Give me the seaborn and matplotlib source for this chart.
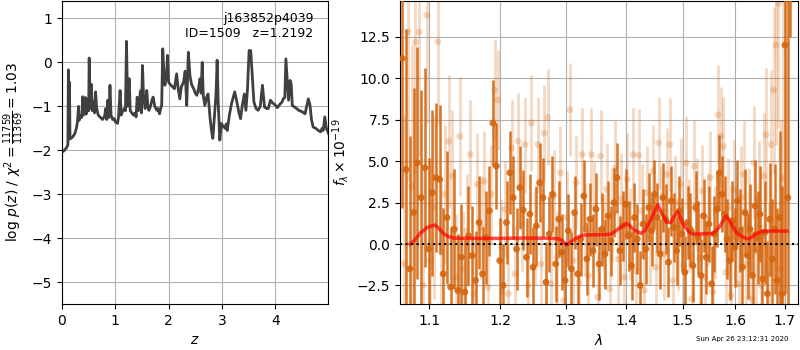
import numpy as np
import pandas as pd
import matplotlib
matplotlib.use("Agg")
import matplotlib.pyplot as plt
from matplotlib.ticker import FixedLocator, FixedFormatter, NullLocator, NullFormatter
import seaborn as sns

# ---------------- data: redshift probability ----------------
z_grid = [0.00, 0.03, 0.06, 0.09, 0.11, 0.12, 0.13, 0.14, 0.15, 0.18, 0.21, 0.24, 0.27, 0.29,
          0.31, 0.32, 0.35, 0.37, 0.39, 0.40, 0.42, 0.44, 0.45, 0.47, 0.49, 0.50, 0.51, 0.53,
          0.55, 0.57, 0.59, 0.61, 0.63, 0.65, 0.68, 0.72, 0.76, 0.80, 0.82, 0.84, 0.86, 0.88,
          0.90, 0.92, 0.95, 0.98, 1.00, 1.04, 1.06, 1.09, 1.11, 1.14, 1.17, 1.19, 1.21, 1.23,
          1.26, 1.28, 1.31, 1.34, 1.37, 1.39, 1.41, 1.43, 1.45, 1.47, 1.49, 1.51, 1.53, 1.56,
          1.59, 1.61, 1.63, 1.66, 1.69, 1.71, 1.74, 1.78, 1.80, 1.83, 1.86, 1.87, 1.89, 1.91,
          1.93, 1.96, 1.98, 2.00, 2.03, 2.07, 2.11, 2.15, 2.18, 2.21, 2.24, 2.28, 2.31, 2.34,
          2.37, 2.40, 2.43, 2.47, 2.50, 2.53, 2.56, 2.59, 2.61, 2.63, 2.65, 2.68, 2.71, 2.74,
          2.78, 2.81, 2.83, 2.85, 2.87, 2.89, 2.91, 2.93, 2.96, 2.99, 3.02, 3.06, 3.08, 3.10,
          3.14, 3.18, 3.21, 3.24, 3.28, 3.32, 3.35, 3.38, 3.42, 3.45, 3.48, 3.51, 3.54, 3.57,
          3.60, 3.64, 3.68, 3.72, 3.76, 3.80, 3.84, 3.87, 3.91, 3.95, 4.00, 4.04, 4.09, 4.13,
          4.15, 4.18, 4.20, 4.23, 4.25, 4.28, 4.30, 4.32, 4.38, 4.44, 4.50, 4.56, 4.59, 4.62,
          4.65, 4.68, 4.71, 4.76, 4.81, 4.85, 4.88, 4.90, 4.93, 4.96, 5.00]
log_pz = [-2.04, -2.02, -1.98, -1.93, -1.88, -0.17, -1.75, -0.45, -1.74, -1.72, -1.68, -1.62, -1.50, -1.35,
          -1.00, -1.32, -1.22, -1.25, -0.78, -1.20, -1.15, -0.80, -1.18, -1.10, -0.85, -1.10, 0.10, -1.05,
          -0.50, -1.10, -0.90, -1.15, -0.67, -1.05, -1.20, -1.25, -1.30, -1.22, -1.05, -1.30, -0.86, -1.25,
          -0.52, -1.20, -1.30, -1.28, -1.35, -1.39, -1.25, -0.64, -1.20, -1.10, -1.05, -1.10, 0.48, -1.00,
          -0.37, -1.10, -1.15, -1.20, -1.15, -1.24, -0.79, -1.10, -1.05, -0.65, -1.15, -0.07, -0.80, -1.05,
          -0.64, -1.00, -1.09, -1.00, -0.85, -0.79, -1.00, -1.09, -1.05, -1.17, -1.00, -0.98, 0.31, -0.20,
          -0.52, -0.30, 0.16, -0.45, -0.50, -0.55, -0.60, -0.26, -0.60, -0.83, -0.55, -0.45, -0.20, -0.98,
          0.23, -0.30, -0.50, -0.60, -0.70, -0.75, -0.60, -0.37, -0.70, 0.00, -0.75, -0.98, -0.80, -0.72,
          -1.30, -1.60, -1.73, -1.40, -1.05, -0.70, 0.05, -0.90, -1.77, -1.39, -1.45, -1.50, -1.40, -1.55,
          -1.20, -0.94, -0.80, -0.67, -0.90, -1.15, -1.28, -1.00, -0.72, -1.09, -0.60, 0.27, 0.27, -0.30,
          -0.90, -1.05, -1.09, -1.00, -0.52, -1.02, -1.05, -1.05, -0.86, -0.92, -0.97, -1.03, -0.95, -0.90,
          -0.83, -0.80, 0.08, -0.50, -0.86, -0.41, -0.50, -0.98, -1.03, -1.09, -1.12, -1.17, -1.00, -0.83,
          -0.95, -1.30, -1.47, -1.50, -1.55, -1.58, -1.50, -1.55, -1.24, -1.50, -1.62]

# ---------------- data: spectrum, dark series ----------------
lam_dark = [1.064, 1.069, 1.074, 1.079, 1.084, 1.089, 1.094, 1.099, 1.104, 1.109,
            1.114, 1.119, 1.124, 1.129, 1.134, 1.139, 1.144, 1.149, 1.154, 1.159,
            1.164, 1.169, 1.174, 1.179, 1.184, 1.189, 1.194, 1.199, 1.204, 1.209,
            1.214, 1.219, 1.224, 1.229, 1.234, 1.239, 1.244, 1.249, 1.254, 1.259,
            1.264, 1.269, 1.274, 1.279, 1.284, 1.289, 1.294, 1.299, 1.304, 1.309,
            1.314, 1.319, 1.324, 1.329, 1.334, 1.339, 1.344, 1.349, 1.354, 1.359,
            1.364, 1.369, 1.374, 1.379, 1.384, 1.389, 1.394, 1.399, 1.404, 1.409,
            1.414, 1.419, 1.424, 1.429, 1.434, 1.439, 1.444, 1.449, 1.454, 1.459,
            1.464, 1.469, 1.474, 1.479, 1.484, 1.489, 1.494, 1.499, 1.504, 1.509,
            1.514, 1.519, 1.524, 1.529, 1.534, 1.539, 1.544, 1.549, 1.554, 1.559,
            1.564, 1.569, 1.574, 1.579, 1.584, 1.589, 1.594, 1.599, 1.604, 1.609,
            1.614, 1.619, 1.624, 1.629, 1.634, 1.639, 1.644, 1.649, 1.654, 1.659,
            1.664, 1.669, 1.674, 1.679, 1.684, 1.689, 1.694, 1.700, 1.706, 1.711]
flux_dark = [11.2, 4.5, -1.5, 1.9, 4.9, 2.8, 4.6, -0.3, 3.1, 4.0,
             3.9, -1.8, 1.6, -2.6, 0.9, -2.8, -0.8, -2.9, 0.5, -0.7,
             -2.2, 1.3, -1.8, 0.4, 2.0, 7.3, 4.7, -1.0, -2.5, 1.3,
             4.3, 2.8, -0.3, 3.4, 2.05, -0.8, 1.8, -1.4, 1.1, 3.7,
             2.8, -2.3, 0.6, 3.0, -1.2, 1.5, -0.5, -2.2, 0.8, -1.5,
             1.9, -1.8, 0.3, 2.9, -0.9, 1.5, -0.4, 2.1, -1.2, 0.9,
             -0.6, 1.7, 0.2, 2.5, 4.0, -0.4, 1.1, 2.4, 0.5, -1.3,
             1.6, 0.3, -2.5, 1.2, -0.3, 2.2, 0.8, 3.0, 1.6, -0.6,
             2.8, 1.5, -1.1, 2.6, 1.0, -0.4, 2.0, 0.6, -1.7, 1.3,
             0.9, -1.3, 2.2, 0.4, -1.9, 1.7, -0.8, 1.2, -2.4, 0.6,
             2.1, 4.3, 3.0, 1.8, 0.3, -1.0, 1.4, -0.2, 2.6, 0.8,
             -1.4, 1.9, -0.7, 0.9, -1.9, 2.3, 0.4, 1.8, -2.1, 0.7,
             -3.0, 1.5, -0.9, 0.9, -2.2, 1.6, -3.0, 12.0, 2.8, 17.0]
err_dark = [9.0, 8.5, 8.0, 7.5, 7.0, 6.5, 6.0, 5.5, 5.0, 4.5,
            4.5, 4.0, 4.0, 3.6, 3.6, 3.4, 3.2, 3.2, 3.0, 3.0,
            3.0, 2.8, 2.8, 2.8, 2.7, 2.6, 2.6, 2.6, 2.5, 2.5,
            2.5, 2.5, 2.5, 2.5, 2.4, 2.4, 2.4, 2.4, 2.4, 2.4,
            2.4, 2.4, 2.3, 2.3, 2.3, 2.3, 2.3, 2.3, 2.2, 2.2,
            2.2, 2.2, 2.2, 2.2, 2.2, 2.2, 2.2, 2.2, 2.2, 2.2,
            2.1, 2.1, 2.1, 2.1, 2.1, 2.1, 2.1, 2.1, 2.1, 2.1,
            2.1, 2.1, 2.1, 2.1, 2.1, 2.1, 2.1, 2.1, 2.1, 2.1,
            2.1, 2.1, 2.1, 2.1, 2.1, 2.1, 2.1, 2.2, 2.2, 2.2,
            2.2, 2.2, 2.2, 2.2, 2.2, 2.2, 2.2, 2.3, 2.3, 2.3,
            2.3, 2.3, 2.3, 2.3, 2.4, 2.4, 2.4, 2.4, 2.5, 2.5,
            2.5, 2.6, 2.6, 2.7, 2.7, 2.8, 2.8, 2.9, 3.0, 3.1,
            3.2, 3.4, 3.6, 3.9, 4.4, 5.2, 6.5, 15.0, 12.0, 4.5]

# ---------------- data: spectrum, light series ----------------
lam_light = [1.0665, 1.0715, 1.0765, 1.0815, 1.0865, 1.0915, 1.0965, 1.1015, 1.1065, 1.1115,
             1.1165, 1.1215, 1.1265, 1.1315, 1.1365, 1.1415, 1.1465, 1.1515, 1.1565, 1.1615,
             1.1665, 1.1715, 1.1765, 1.1815, 1.1865, 1.1915, 1.1965, 1.2015, 1.2065, 1.2115,
             1.2165, 1.2215, 1.2265, 1.2315, 1.2365, 1.2415, 1.2465, 1.2515, 1.2565, 1.2615,
             1.2665, 1.2715, 1.2765, 1.2815, 1.2865, 1.2915, 1.2965, 1.3015, 1.3065, 1.3115,
             1.3165, 1.3215, 1.3265, 1.3315, 1.3365, 1.3415, 1.3465, 1.3515, 1.3565, 1.3615,
             1.3665, 1.3715, 1.3765, 1.3815, 1.3865, 1.3915, 1.3965, 1.4015, 1.4065, 1.4115,
             1.4165, 1.4215, 1.4265, 1.4315, 1.4365, 1.4415, 1.4465, 1.4515, 1.4565, 1.4615,
             1.4665, 1.4715, 1.4765, 1.4815, 1.4865, 1.4915, 1.4965, 1.5015, 1.5065, 1.5115,
             1.5165, 1.5215, 1.5265, 1.5315, 1.5365, 1.5415, 1.5465, 1.5515, 1.5565, 1.5615,
             1.5665, 1.5715, 1.5765, 1.5815, 1.5865, 1.5915, 1.5965, 1.6015, 1.6065, 1.6115,
             1.6165, 1.6215, 1.6265, 1.6315, 1.6365, 1.6415, 1.6465, 1.6515, 1.6565, 1.6615,
             1.6665, 1.6715, 1.6765, 1.6815, 1.6865, 1.6915, 1.6965]
flux_light = [-1.2, 12.8, 3.5, 12.2, 12.8, -2.5, 13.8, -1.0, 2.2, 12.2,
              -0.5, 3.0, 6.2, 4.1, -2.0, 6.5, -1.5, 0.8, 5.4, -3.0,
              3.6, 1.0, 3.8, -2.6, 3.0, 9.3, 8.7, -0.2, 2.1, -3.0,
              5.8, -1.8, 6.2, 1.2, 6.0, -2.5, 7.3, 0.4, 6.0, -1.2,
              6.7, 7.65, -2.4, 2.9, -0.8, 4.3, -3.4, 1.6, 8.1, -1.0,
              3.7, -2.3, 5.4, 0.9, -1.9, 5.4, 2.2, -3.2, 5.3, 0.2,
              3.3, -2.7, 1.8, 4.6, -0.9, 2.7, -2.0, 3.9, 0.6, 5.4,
              -1.6, 5.35, 2.0, -2.8, 3.1, 0.3, 4.4, -1.4, 6.1, 1.9,
              -0.6, 4.2, 6.0, -2.2, 2.5, 0.0, 3.6, -1.3, 4.9, 1.1,
              -3.3, 4.7, 2.4, -0.9, 3.2, -2.0, 1.5, 4.0, -2.9, 0.7,
              7.8, 6.5, 5.9, -1.7, 2.2, -3.1, 3.3, 0.4, -2.4, 2.8,
              4.2, -1.2, 1.3, -3.3, 4.9, -0.4, 2.6, -2.5, 4.1, 6.6,
              -1.8, 6.0, 9.3, 12.0, 14.5, -1.5, 4.0]
err_light = [9.0, 9.0, 8.5, 8.0, 7.5, 7.0, 6.5, 6.0, 5.5, 5.0,
             4.5, 4.2, 4.0, 4.0, 3.8, 3.6, 3.5, 3.4, 3.3, 3.2,
             3.1, 3.1, 3.0, 3.0, 3.0, 3.0, 3.0, 2.9, 2.9, 2.9,
             2.9, 2.9, 2.9, 2.9, 2.9, 2.9, 2.9, 2.9, 2.9, 2.9,
             2.9, 2.9, 2.8, 2.8, 2.8, 2.8, 2.8, 2.8, 2.8, 2.8,
             2.8, 2.8, 2.8, 2.8, 2.8, 2.8, 2.8, 2.8, 2.8, 2.8,
             2.8, 2.8, 2.8, 2.8, 2.8, 2.8, 2.8, 2.8, 2.8, 2.8,
             2.8, 2.8, 2.8, 2.8, 2.8, 2.8, 2.8, 2.8, 2.8, 2.8,
             2.8, 2.8, 2.8, 2.8, 2.8, 2.8, 2.8, 2.8, 2.8, 2.8,
             2.8, 2.8, 2.8, 2.8, 2.8, 2.8, 2.8, 2.8, 2.8, 2.8,
             3.0, 3.0, 3.0, 3.0, 3.0, 3.0, 3.0, 3.0, 3.1, 3.1,
             3.2, 3.2, 3.3, 3.3, 3.4, 3.5, 3.6, 3.7, 3.8, 4.0,
             4.2, 4.5, 5.0, 6.0, 7.5, 9.0, 11.0]

# ---------------- data: best-fit model ----------------
lam_model = [1.0743, 1.081, 1.0875, 1.097, 1.1076, 1.113, 1.119, 1.126, 1.133, 1.145,
             1.160, 1.200, 1.240, 1.280, 1.291, 1.3015, 1.312, 1.320, 1.328, 1.350,
             1.373, 1.384, 1.392, 1.400, 1.406, 1.412, 1.425, 1.432, 1.438, 1.448,
             1.455, 1.462, 1.471, 1.479, 1.484, 1.491, 1.496, 1.500, 1.511, 1.519,
             1.540, 1.557, 1.570, 1.576, 1.582, 1.588, 1.593, 1.603, 1.615, 1.626,
             1.634, 1.642, 1.656, 1.680, 1.704]
flux_model = [0.0, 0.25, 0.64, 1.00, 1.15, 0.95, 0.64, 0.45, 0.36, 0.34,
              0.34, 0.34, 0.36, 0.34, 0.30, -0.06, 0.24, 0.42, 0.54, 0.56,
              0.58, 0.84, 1.05, 1.25, 1.10, 0.89, 0.64, 0.80, 1.15, 1.86,
              2.37, 1.86, 1.31, 1.29, 1.65, 1.96, 1.60, 1.25, 0.74, 0.60,
              0.62, 0.64, 1.05, 1.40, 1.70, 1.45, 1.15, 0.64, 0.42, 0.30,
              0.45, 0.64, 0.78, 0.78, 0.78]

xticks_lam = [1.1, 1.2, 1.3, 1.4, 1.5, 1.6, 1.7]
xtick_labels_lam = ["1.1", "1.2", "1.3", "1.4", "1.5", "1.6", "1.7"]

# ---------------- figure ----------------
plt.rcParams["font.family"] = ["DejaVu Sans"]
fig = plt.figure(figsize=(8, 3.5), dpi=100)
ax1 = fig.add_axes([0.0775, 0.1314, 0.3325, 0.866])
ax2 = fig.add_axes([0.5, 0.1314, 0.4975, 0.866])

# left: p(z)
df_pz = pd.DataFrame({"z": z_grid, "logp": log_pz})
sns.lineplot(data=df_pz, x="z", y="logp", ax=ax1, color="0.25", lw=2.0,
             sort=False, estimator=None)
ax1.set_xlim(0, 4.99)
ax1.set_ylim(-5.5, 1.4)
ax1.set_xticks([0, 1, 2, 3, 4])
ax1.set_yticks([-5, -4, -3, -2, -1, 0, 1])
ax1.grid(True, color="#b0b0b0", lw=0.8)
ax1.set_axisbelow(True)
ax1.set_xlabel(r"$z$", fontsize=10)
ax1.set_ylabel(r"$\log\,p(z)$ / $\chi^2=\frac{11759}{11369}=1.03$", fontsize=10)
ax1.text(0.945, 0.965, "j163852p4039\nID=1509   z=1.2192", transform=ax1.transAxes,
         ha="right", va="top", fontsize=9)

# right: spectrum
orange = "#d4660f"
ax2.errorbar(lam_light, flux_light, yerr=err_light, fmt="none", ecolor=orange,
             elinewidth=2.0, alpha=0.25, zorder=2)
sns.scatterplot(x=lam_light, y=flux_light, ax=ax2, color=orange, alpha=0.25,
                s=24, edgecolor="none", zorder=2.1, legend=False)
ax2.errorbar(lam_dark, flux_dark, yerr=err_dark, fmt="none", ecolor=orange,
             elinewidth=1.8, alpha=0.9, zorder=3)
sns.scatterplot(x=lam_dark, y=flux_dark, ax=ax2, color=orange, alpha=0.9,
                s=24, edgecolor="none", zorder=3.1, legend=False)
df_model = pd.DataFrame({"lam": lam_model, "flux": flux_model})
sns.lineplot(data=df_model, x="lam", y="flux", ax=ax2, color="red", alpha=0.7,
             lw=2.5, sort=False, estimator=None, zorder=4)
ax2.axhline(0, color="k", ls=":", lw=1.5, zorder=5)

ax2.set_xscale("log")
ax2.set_xlim(1.0612, 1.7275)
ax2.set_ylim(-3.62, 14.67)
ax2.xaxis.set_major_locator(FixedLocator(xticks_lam))
ax2.xaxis.set_major_formatter(FixedFormatter(xtick_labels_lam))
ax2.xaxis.set_minor_locator(NullLocator())
ax2.xaxis.set_minor_formatter(NullFormatter())
ax2.set_yticks([-2.5, 0.0, 2.5, 5.0, 7.5, 10.0, 12.5])
ax2.grid(True, color="#b0b0b0", lw=0.8)
ax2.set_axisbelow(True)
ax2.set_xlabel(r"$\lambda$", fontsize=10)
ax2.set_ylabel(r"$f_\lambda\times10^{-19}$", fontsize=10)

for ax in (ax1, ax2):
    ax.tick_params(labelsize=10)
    for sp in ax.spines.values():
        sp.set_color("black")
        sp.set_linewidth(0.8)

fig.text(0.985, 0.022, "Sun Apr 26 23:12:31 2020", ha="right", va="bottom", fontsize=5)

fig.savefig("out.png", dpi=100)
